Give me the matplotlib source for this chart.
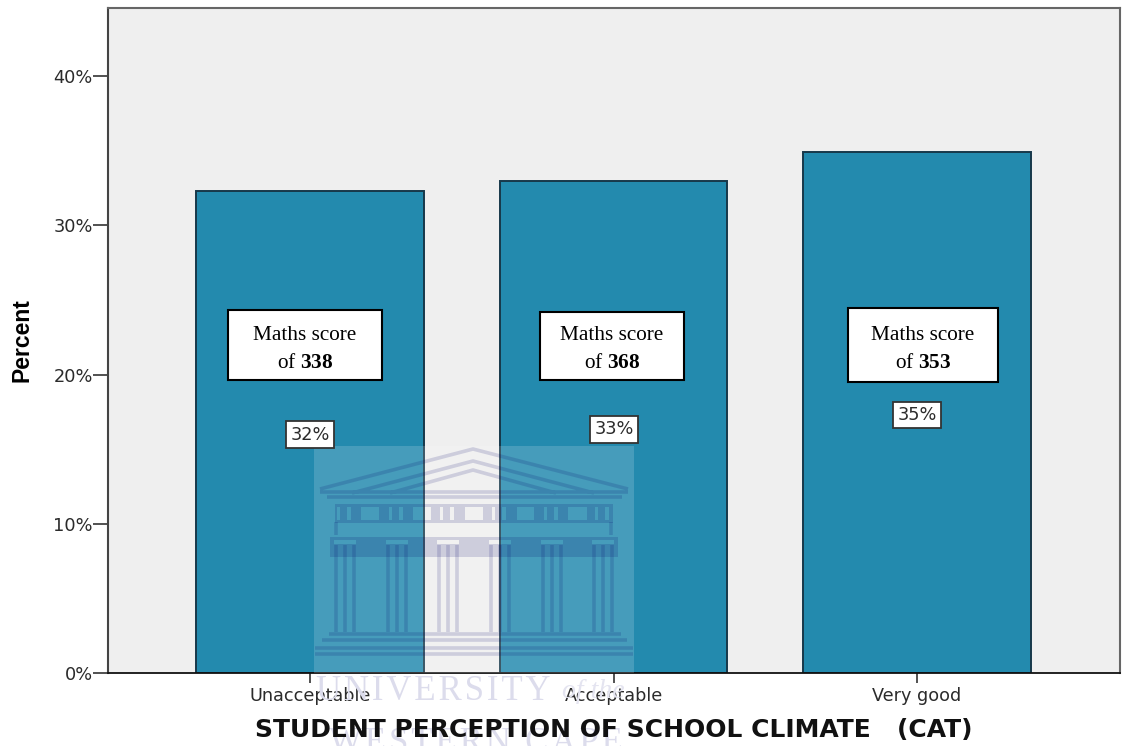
import numpy as np
import matplotlib
matplotlib.use("Agg")
import matplotlib.pyplot as plt
from matplotlib.patches import Rectangle, PathPatch
from matplotlib.path import Path
from matplotlib.transforms import Affine2D

categories = ["Unacceptable", "Acceptable", "Very good"]
percent = [32.3, 33.0, 34.9]
pct_labels = ["32%", "33%", "35%"]
maths_scores = ["338", "368", "353"]
y_ticks = [0, 10, 20, 30, 40]

W, H = 1122, 746
BAR = "#238aae"
INK = "#2b2b2b"
WM = (0, 0, 0.41)  # watermark ink

plt.rcParams["mathtext.fontset"] = "custom"
plt.rcParams["mathtext.rm"] = "Liberation Serif"
plt.rcParams["mathtext.bf"] = "Liberation Serif:bold"

fig = plt.figure(figsize=(W / 100, H / 100), dpi=100, facecolor="white")
ax = fig.add_axes([108 / W, 1 - 673 / H, (1120 - 108) / W, (673 - 8) / H])
ax.set_facecolor("#efefef")

x = np.arange(len(categories))
ax.bar(x, percent, width=0.751, color=BAR, edgecolor="#17384a", linewidth=1.4, zorder=2)

ax.set_xlim(-0.666, 2.669)
ax.set_ylim(0, 44.56)
ax.set_xticks(x)
ax.set_xticklabels(categories, fontsize=12.7, color=INK, family="DejaVu Sans")
ax.set_yticks(y_ticks)
ax.set_yticklabels([f"{v}%" for v in y_ticks], fontsize=12.8, color=INK, family="DejaVu Sans")
ax.tick_params(axis="y", length=11, width=1.2, color="#333333", pad=0)
ax.tick_params(axis="x", length=7, width=1.2, color="#333333", pad=3)

for s in ["top", "right"]:
    ax.spines[s].set_color("#666666")
    ax.spines[s].set_linewidth(1.5)
ax.spines["left"].set_color("#444444")
ax.spines["left"].set_linewidth(1.5)
ax.spines["bottom"].set_color("#111111")
ax.spines["bottom"].set_linewidth(1.3)

# pixel coords, y down from the top of the image
px = Affine2D().scale(1 / W, -1 / H).translate(0, 1) + fig.transFigure

fig.text(22, 340, "Percent", transform=px, rotation=90, ha="center", va="center",
         fontsize=16.5, fontweight="bold", color="black", family="Liberation Sans")
fig.text(614, 730, "STUDENT PERCEPTION OF SCHOOL CLIMATE   (CAT)", transform=px, ha="center",
         va="center", fontsize=18, fontweight="bold", color="#111111", family="DejaVu Sans",
         zorder=5)

# ---- watermark ----
def rect(x0, y0, x1, y1, hole=False):
    pts = [(x0, y0), (x1, y0), (x1, y1), (x0, y1), (x0, y0)]
    return pts[::-1] if hole else pts

def compound(polys):
    verts, codes = [], []
    for p in polys:
        verts += p
        codes += [Path.MOVETO] + [Path.LINETO] * (len(p) - 2) + [Path.CLOSEPOLY]
    return Path(verts, codes)

def strokes(lines):
    verts, codes = [], []
    for p in lines:
        verts += p
        codes += [Path.MOVETO] + [Path.LINETO] * (len(p) - 1)
    return Path(verts, codes)

veil = Rectangle((314, 446), 320, 227, transform=px, facecolor="white", alpha=0.16,
                 edgecolor="none", zorder=3, clip_on=False)
fig.add_artist(veil)

columns = [345, 397, 448, 500, 552, 603]
lines = [
    [(320, 489), (473, 449), (628, 489)],
    [(352, 493), (473, 461), (594, 493)],
    [(390, 493), (473, 470), (556, 493)],
    [(320, 492), (628, 492)],
    [(327, 497), (622, 497)],
    [(336, 522), (336, 535)],
    [(611, 522), (611, 535)],
    [(329, 634), (621, 634)],
    [(322, 640), (627, 640)],
    [(315, 648), (633, 648)],
    [(315, 654), (633, 654)],
]
for c in columns:
    lines += [[(c - 9, 545), (c - 9, 632)], [(c, 545), (c, 632)], [(c + 9, 545), (c + 9, 632)]]
fig.add_artist(PathPatch(strokes(lines), transform=px, fill=False, edgecolor=WM, alpha=0.15,
                         linewidth=2.6, zorder=4, clip_on=False))

holes = [rect(a, 507, b, 520, hole=True) for a, b in
         [(361, 379), (413, 431), (465, 483), (517, 534), (568, 587)]]
for c in columns:
    holes += [rect(c - 8, 507, c - 5, 520, hole=True), rect(c + 2, 507, c + 6, 520, hole=True)]
caps = [rect(c - 11, 540, c + 11, 544, hole=True) for c in columns]
fills = [rect(335, 504, 613, 523)] + holes + [rect(330, 537, 618, 557)] + caps
fig.add_artist(PathPatch(compound(fills), transform=px, facecolor=WM, edgecolor="none",
                         alpha=0.15, zorder=4, clip_on=False))

hair = "\u200a"
fig.text(316, 691, hair.join("UNIVERSITY"), transform=px, va="center", fontsize=25, color="#dcdcec",
         family="Liberation Serif", zorder=0)
fig.text(562, 691, "of the", transform=px, va="center", fontsize=20, color="#e4e4f0",
         family="Liberation Serif", style="italic", zorder=0)
fig.text(476, 743, hair.join("WESTERN CAPE"), transform=px, ha="center", va="center", fontsize=25,
         color="#dcdcec", family="Liberation Serif", zorder=0)

# ---- annotation boxes ----
score_boxes = [(228, 310, 382, 380), (540, 312, 684, 380), (848, 308, 998, 382)]
pct_boxes = [(286, 421, 334, 448), (590, 416, 638, 443), (893, 402, 941, 428)]

for (x0, y0, x1, y1), score in zip(score_boxes, maths_scores):
    fig.add_artist(Rectangle((x0, y0), x1 - x0, y1 - y0, transform=px, facecolor="white",
                             edgecolor="black", linewidth=1.5, zorder=6))
    cx = (x0 + x1) / 2
    fig.text(cx, (y0 + y1) / 2 - 10, "Maths score", transform=px, ha="center", va="center",
             fontsize=15.3, family="Liberation Serif", color="black", zorder=7)
    fig.text(cx, (y0 + y1) / 2 + 18, "of $\\mathbf{" + score + "}$", transform=px, ha="center",
             va="center", fontsize=15.3, family="Liberation Serif", color="black", zorder=7)

for (x0, y0, x1, y1), lab in zip(pct_boxes, pct_labels):
    fig.add_artist(Rectangle((x0, y0), x1 - x0, y1 - y0, transform=px, facecolor="white",
                             edgecolor="#333333", linewidth=1.3, zorder=6))
    fig.text((x0 + x1) / 2, (y0 + y1) / 2, lab, transform=px, ha="center", va="center",
             fontsize=12.8, family="DejaVu Sans", color=INK, zorder=7)

fig.savefig("out.png", dpi=100, facecolor="white")
